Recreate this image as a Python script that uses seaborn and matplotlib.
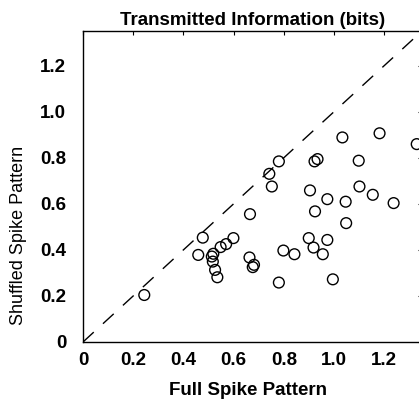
import numpy as np
import pandas as pd
import matplotlib
matplotlib.use("Agg")
import matplotlib.pyplot as plt
import seaborn as sns

# values
full_spike = [0.244, 0.477, 0.459, 0.519, 0.513, 0.517, 0.526, 0.535, 0.548, 0.570,
              0.599, 0.665, 0.663, 0.681, 0.676, 0.742, 0.752, 0.780, 0.780, 0.798,
              0.842, 0.904, 0.899, 0.918, 0.924, 0.922, 0.934, 0.955, 0.973, 0.973,
              0.995, 1.046, 1.048, 1.098, 1.101, 1.154, 1.237, 1.033, 1.181, 1.329]
shuffled_spike = [0.204, 0.453, 0.378, 0.383, 0.371, 0.349, 0.313, 0.281, 0.412, 0.425,
                  0.451, 0.555, 0.367, 0.335, 0.325, 0.730, 0.675, 0.784, 0.258, 0.397,
                  0.381, 0.658, 0.451, 0.410, 0.567, 0.784, 0.794, 0.381, 0.620, 0.443,
                  0.272, 0.609, 0.516, 0.787, 0.675, 0.639, 0.603, 0.888, 0.906, 0.859]
x_ticks = [0, 0.2, 0.4, 0.6, 0.8, 1.0, 1.2]
x_tick_labels = ["0", "0.2", "0.4", "0.6", "0.8", "1.0", "1.2"]
y_ticks = [0, 0.2, 0.4, 0.6, 0.8, 1.0, 1.2]
y_tick_labels = ["0", "0.2", "0.4", "0.6", "0.8", "1.0", "1.2"]
diag = [0, 1.35]

df = pd.DataFrame({"Full Spike Pattern": full_spike,
                   "Shuffled Spike Pattern": shuffled_spike})

sns.set_style("white")
plt.rcParams["font.family"] = ["Liberation Sans", "DejaVu Sans"]
plt.rcParams["text.color"] = "black"
plt.rcParams["axes.labelcolor"] = "black"
plt.rcParams["xtick.color"] = "black"
plt.rcParams["ytick.color"] = "black"

fig = plt.figure(figsize=(4.19, 4.01), dpi=100)
# axes runs slightly past the right edge, as in the scanned figure
ax = fig.add_axes([83 / 419, 59 / 401, 339 / 419, 311 / 401])

ax.plot(diag, diag, color="black", linewidth=1.0, linestyle=(0, (10.5, 9)))
sns.scatterplot(data=df, x="Full Spike Pattern", y="Shuffled Spike Pattern",
                marker="o", s=60, facecolors="none", edgecolor="black",
                linewidth=1.0, ax=ax, zorder=3)

ax.set_xlim(0, 1.35)
ax.set_ylim(0, 1.35)
ax.set_xticks(x_ticks)
ax.set_xticklabels(x_tick_labels, fontsize=13.5, fontweight="bold")
ax.set_yticks(y_ticks)
ax.set_yticklabels(y_tick_labels, fontsize=13.5, fontweight="bold")
ax.tick_params(direction="in", length=3, width=0.8, top=True, right=True)
ax.tick_params(axis="x", pad=7)
ax.tick_params(axis="y", pad=12)
for sp in ax.spines.values():
    sp.set_color("black")
    sp.set_linewidth(1.0)

ax.set_title("Transmitted Information (bits)", fontsize=13.5, fontweight="bold", pad=4)
ax.set_xlabel("Full Spike Pattern", fontsize=13.5, fontweight="bold")
ax.set_ylabel("Shuffled Spike Pattern", fontsize=13)
ax.yaxis.set_label_coords(-56 / 339, 0.344)
ax.xaxis.set_label_coords(165 / 339, -40 / 311)

fig.savefig("out.png", dpi=100)
